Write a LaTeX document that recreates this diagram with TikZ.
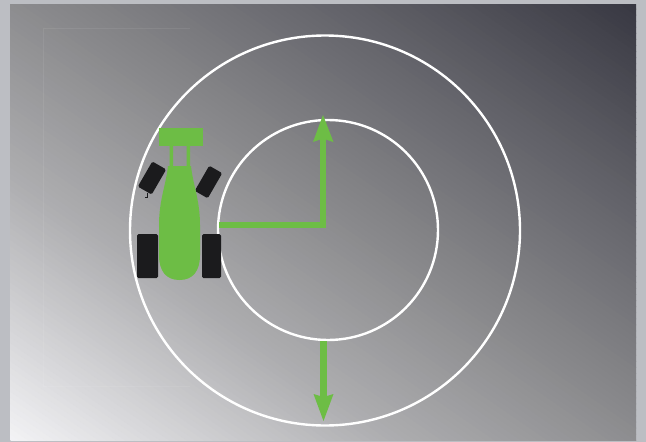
\documentclass[tikz,border=0pt]{standalone}
\definecolor{pageedge}{HTML}{BCBEC3}
\definecolor{gr}{HTML}{6DBD45}
\definecolor{tyre}{HTML}{1B1B1D}
\tikzset{
 ring/.style={draw=white,line width=2.4pt,minimum size=#1,inner sep=0pt,circle},
 grline/.style={draw=gr,line width=5.5pt},
 wheel/.style={fill=tyre,rounded corners=1.5pt},
 grfill/.style={fill=gr},
}
\begin{document}
\begin{tikzpicture}[x=1pt,y=-1pt]
\useasboundingbox (0,0) rectangle (646,442);
\fill[pageedge] (0,0) rectangle (646,442);
\begin{scope}
\clip (10,4) rectangle (636,440);
\foreach \i in {0,...,143}{
  \pgfmathsetmacro{\t}{\i/143}
  \pgfmathsetmacro{\vv}{\t<0.3 ? 0.95-0.27*\t/0.3 : (\t<0.5 ? 0.68-0.13*(\t-0.3)/0.2 : (\t<0.8 ? 0.55-0.19*(\t-0.5)/0.3 : 0.36-0.145*(\t-0.8)/0.2))}
  \pgfmathsetmacro{\bb}{\vv+0.01+0.06*max(0,\t-0.5)}
  \definecolor{stripe}{rgb}{\vv,\vv,\bb}
  \fill[stripe,rotate around={-34.6:(10,440)}] (-300,440-\i*5) rectangle (1100,440-\i*5-5.6);
}
\end{scope}
\draw[white,opacity=.07,line width=.7pt] (190,28) -- (43,28) -- (43,386) -- (190,386);
\node[ring=390pt] (outer) at (325,230.5) {};
\node[ring=220pt] (inner) at (328,230) {};
\coordinate (cornerpt) at (323,225);
\coordinate (lstart) at (219,225);
\coordinate (ltip) at (323,115);
\coordinate (dstart) at (323.5,341);
\coordinate (dtip) at (323.5,421);
% wheels
\fill[wheel] (137,234) rectangle (158,278);
\fill[wheel] (202,234) rectangle (221,278);
\fill[wheel,rotate around={-30:(152,178)}] (144,163.5) rectangle (160,192.5);
\fill[wheel,rotate around={-30:(208.5,182)}] (201,167.5) rectangle (216,196.5);
\draw[tyre,line width=.4pt] (147,193) -- (147,197) -- (145,197);
% body
\fill[grfill] (159,128) rectangle (203,146);
\fill[grfill] (169.5,146) rectangle (173,166) (186.5,146) rectangle (190,166);
\fill[grfill] (168,166) -- (191,166)
  .. controls (193,185) and (200,200) .. (200,225)
  -- (200,255) .. controls (200,271) and (193,280) .. (179.5,280)
  .. controls (166,280) and (159,271) .. (159,255)
  -- (159,225) .. controls (159,200) and (166,185) .. (168,166) -- cycle;
% arrows
\draw[grline,line join=miter] (lstart) -- (cornerpt) -- (323,135);
\fill[grfill] (ltip) -- (333.5,142) -- (323,138.5) -- (313,142) -- cycle;
\draw[draw=gr,line width=7pt] (dstart) -- (323.5,398);
\fill[grfill] (dtip) -- (333.5,394) -- (323.5,397) -- (313.5,394) -- cycle;
\end{tikzpicture}
\end{document}
